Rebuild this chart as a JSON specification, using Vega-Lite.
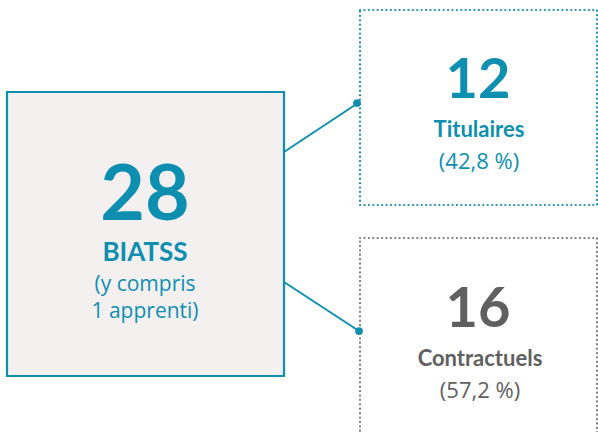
{
  "$schema": "https://vega.github.io/schema/vega-lite/v6.json",
  "width": 598,
  "height": 432,
  "autosize": {"type": "fit", "contains": "padding"},
  "padding": 0,
  "background": "white",
  "config": {"view": {"stroke": null}, "font": "Lato"},
  "layer": [
    {
      "data": {"values": [
        {"box": "BIATSS", "x0": 7, "x1": 284, "y0": 92, "y1": 376}
      ]},
      "mark": {"type": "rect", "fill": "#f4f0f0", "stroke": "#0e8fb0", "strokeWidth": 2.2, "clip": true},
      "encoding": {
        "x": {"field": "x0", "type": "quantitative", "scale": {"domain": [0, 598]}, "axis": null},
        "x2": {"field": "x1"},
        "y": {"field": "y0", "type": "quantitative", "scale": {"domain": [432, 0]}, "axis": null},
        "y2": {"field": "y1"}
      }
    },
    {
      "data": {"values": [
        {"box": "Titulaires", "x0": 360, "x1": 597, "y0": 10, "y1": 205, "c": "#1790b0"},
        {"box": "Contractuels", "x0": 360, "x1": 597, "y0": 238, "y1": 445, "c": "#7a7a7a"}
      ]},
      "mark": {"type": "rect", "fill": "white", "strokeWidth": 2.2, "strokeDash": [0.1, 4.3], "strokeCap": "round", "clip": true},
      "encoding": {
        "x": {"field": "x0", "type": "quantitative", "scale": {"domain": [0, 598]}, "axis": null},
        "x2": {"field": "x1"},
        "y": {"field": "y0", "type": "quantitative", "scale": {"domain": [432, 0]}, "axis": null},
        "y2": {"field": "y1"},
        "stroke": {"field": "c", "type": "nominal", "scale": null}
      }
    },
    {
      "data": {"values": [
        {"link": "Titulaires", "x0": 284, "y0": 152, "x1": 358, "y1": 103},
        {"link": "Contractuels", "x0": 284, "y0": 282, "x1": 359, "y1": 331}
      ]},
      "mark": {"type": "rule", "color": "#0e8fb0", "strokeWidth": 2, "clip": true},
      "encoding": {
        "x": {"field": "x0", "type": "quantitative", "scale": {"domain": [0, 598]}, "axis": null},
        "x2": {"field": "x1"},
        "y": {"field": "y0", "type": "quantitative", "scale": {"domain": [432, 0]}, "axis": null},
        "y2": {"field": "y1"}
      }
    },
    {
      "data": {"values": [
        {"link": "Titulaires", "x": 357, "y": 103},
        {"link": "Contractuels", "x": 359, "y": 331}
      ]},
      "mark": {"type": "point", "filled": true, "color": "#0e8fb0", "size": 60, "opacity": 1, "clip": true},
      "encoding": {
        "x": {"field": "x", "type": "quantitative", "scale": {"domain": [0, 598]}, "axis": null},
        "y": {"field": "y", "type": "quantitative", "scale": {"domain": [432, 0]}, "axis": null}
      }
    },
    {
      "data": {"values": [
        {"label": "28", "x": 145, "y": 220, "s": 77, "c": "#0e8fb0"},
        {"label": "BIATSS", "x": 145, "y": 261, "s": 26, "c": "#0e8fb0"},
        {"label": "12", "x": 478, "y": 98, "s": 56, "c": "#0e8fb0"},
        {"label": "Titulaires", "x": 479, "y": 137, "s": 22, "c": "#0e8fb0"},
        {"label": "16", "x": 478, "y": 327, "s": 56, "c": "#606060"},
        {"label": "Contractuels", "x": 480, "y": 366, "s": 22, "c": "#606060"}
      ]},
      "mark": {"type": "text", "fontWeight": "bold", "align": "center", "baseline": "alphabetic", "clip": true},
      "encoding": {
        "x": {"field": "x", "type": "quantitative", "scale": {"domain": [0, 598]}, "axis": null},
        "y": {"field": "y", "type": "quantitative", "scale": {"domain": [432, 0]}, "axis": null},
        "text": {"field": "label"},
        "size": {"field": "s", "type": "quantitative", "scale": null},
        "color": {"field": "c", "type": "nominal", "scale": null}
      }
    },
    {
      "data": {"values": [
        {"label": "(y compris", "x": 145, "y": 291, "s": 21, "c": "#0e8fb0"},
        {"label": "1 apprenti)", "x": 145, "y": 318, "s": 21, "c": "#0e8fb0"},
        {"label": "(42,8 %)", "x": 479, "y": 169, "s": 22, "c": "#0e8fb0"},
        {"label": "(57,2 %)", "x": 480, "y": 398, "s": 22, "c": "#606060"}
      ]},
      "mark": {"type": "text", "font": "Open Sans", "fontWeight": "normal", "align": "center", "baseline": "alphabetic", "clip": true},
      "encoding": {
        "x": {"field": "x", "type": "quantitative", "scale": {"domain": [0, 598]}, "axis": null},
        "y": {"field": "y", "type": "quantitative", "scale": {"domain": [432, 0]}, "axis": null},
        "text": {"field": "label"},
        "size": {"field": "s", "type": "quantitative", "scale": null},
        "color": {"field": "c", "type": "nominal", "scale": null}
      }
    }
  ]
}
